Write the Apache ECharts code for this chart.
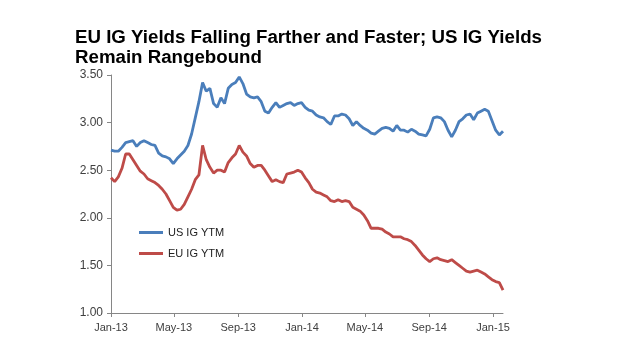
<!DOCTYPE html>
<html>
<head>
<meta charset="utf-8">
<script src="https://cdn.jsdelivr.net/npm/echarts@6/dist/echarts.min.js"></script>
<style>
html,body{margin:0;padding:0;background:#fff;}
#chart{width:640px;height:360px;}
</style>
</head>
<body>
<div id="chart"></div>
<script>
// Weekly observations starting 2013-01-01
const startDate = '2013-01-01';
const usValues = [
2.71,2.70,2.70,2.74,2.79,2.80,2.81,2.75,2.79,2.81,
2.79,2.77,2.76,2.68,2.65,2.64,2.62,2.57,2.62,2.66,
2.70,2.76,2.88,3.05,3.22,3.42,3.33,3.36,3.20,3.16,
3.26,3.20,3.36,3.40,3.42,3.48,3.41,3.30,3.27,3.26,
3.27,3.22,3.12,3.10,3.16,3.21,3.16,3.18,3.20,3.21,
3.18,3.20,3.21,3.16,3.13,3.12,3.08,3.06,3.05,3.01,
2.98,3.07,3.07,3.09,3.08,3.04,2.97,3.01,2.97,2.94,
2.92,2.89,2.88,2.91,2.94,2.95,2.94,2.91,2.97,2.92,
2.92,2.90,2.93,2.91,2.88,2.87,2.86,2.93,3.05,3.06,
3.05,3.01,2.92,2.85,2.92,3.01,3.04,3.08,3.09,3.03,
3.10,3.12,3.14,3.12,3.02,2.92,2.87,2.91
];
const euValues = [
2.42,2.38,2.43,2.52,2.67,2.67,2.61,2.55,2.49,2.46,
2.41,2.39,2.37,2.34,2.30,2.25,2.18,2.11,2.08,2.09,
2.14,2.22,2.30,2.40,2.45,2.76,2.61,2.53,2.47,2.50,
2.50,2.48,2.58,2.63,2.67,2.76,2.69,2.65,2.57,2.53,
2.55,2.55,2.50,2.44,2.38,2.40,2.38,2.37,2.46,2.47,
2.48,2.50,2.48,2.42,2.37,2.30,2.27,2.26,2.24,2.22,
2.18,2.17,2.19,2.17,2.18,2.17,2.11,2.09,2.07,2.03,
1.97,1.89,1.89,1.89,1.88,1.85,1.83,1.80,1.80,1.80,
1.78,1.77,1.75,1.71,1.66,1.61,1.57,1.54,1.57,1.58,
1.56,1.55,1.54,1.56,1.53,1.50,1.47,1.44,1.43,1.44,
1.45,1.43,1.41,1.38,1.35,1.33,1.32,1.24
];
const tickDates = ['2013-01-01','2013-05-01','2013-09-01','2014-01-01','2014-05-01','2014-09-01','2015-01-01'];
const tickLabels = ['Jan-13','May-13','Sep-13','Jan-14','May-14','Sep-14','Jan-15'];
const seriesNames = ['US IG YTM','EU IG YTM'];
const titleText = 'EU IG Yields Falling Farther and Faster; US IG Yields\nRemain Rangebound';

const DAY = 86400000;
const t0 = Date.parse(startDate + 'T00:00:00Z');
const dates = usValues.map((_, i) => t0 + i * 7 * DAY);
const tickTs = tickDates.map(d => Date.parse(d + 'T00:00:00Z'));

const chart = echarts.init(document.getElementById('chart'), null, {renderer: 'canvas'});
const font = 'Arial, "Liberation Sans", sans-serif';
chart.setOption({
  animation: false,
  backgroundColor: '#ffffff',
  title: {
    text: titleText,
    left: 75, top: 28,
    padding: 0,
    textStyle: {fontFamily: font, fontSize: 18.7, fontWeight: 'bold', color: '#000', lineHeight: 20}
  },
  legend: {
    orient: 'vertical',
    left: 134, top: 222,
    itemWidth: 24, itemHeight: 3,
    itemGap: 10,
    icon: 'rect',
    textStyle: {fontFamily: font, fontSize: 11, color: '#222'},
    data: seriesNames
  },
  grid: {left: 111, right: 137, top: 75, bottom: 47, containLabel: false},
  xAxis: {
    type: 'value',
    min: t0,
    max: dates[dates.length - 1],
    axisLine: {show: true, lineStyle: {color: '#868686', width: 1}},
    axisTick: {show: true, length: 4, customValues: tickTs, lineStyle: {color: '#868686'}},
    axisLabel: {
      customValues: tickTs,
      margin: 9,
      fontFamily: font, fontSize: 11, color: '#404040',
      formatter: function (v) {
        for (let i = 0; i < tickTs.length; i++) if (Math.abs(tickTs[i] - v) < DAY) return tickLabels[i];
        return '';
      }
    },
    splitLine: {show: false}
  },
  yAxis: {
    type: 'value',
    min: 1, max: 3.5, interval: 0.5,
    axisLine: {show: true, lineStyle: {color: '#868686', width: 1}},
    axisTick: {show: true, length: 4, lineStyle: {color: '#868686'}},
    axisLabel: {margin: 8, fontFamily: font, fontSize: 12, color: '#404040', formatter: v => v.toFixed(2)},
    splitLine: {show: false}
  },
  series: [
    {name: seriesNames[0], type: 'line', showSymbol: false, symbol: 'none',
     lineStyle: {color: '#4a7ebb', width: 2.8}, itemStyle: {color: '#4a7ebb'},
     data: dates.map((d, i) => [d, usValues[i]])},
    {name: seriesNames[1], type: 'line', showSymbol: false, symbol: 'none',
     lineStyle: {color: '#be4b48', width: 2.8}, itemStyle: {color: '#be4b48'},
     data: dates.map((d, i) => [d, euValues[i]])}
  ]
});
</script>
</body>
</html>
